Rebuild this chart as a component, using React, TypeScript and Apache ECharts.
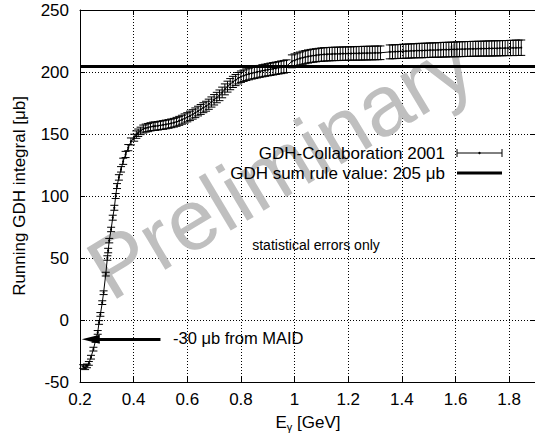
import React, { useEffect, useRef } from 'react';
import * as echarts from 'echarts';

const FONT = '"Liberation Sans", Arial, Helvetica, sans-serif';

// Photon energy E_gamma [GeV]
const energyGeV = [
  0.212, 0.219, 0.226, 0.233, 0.241, 0.250, 0.258, 0.266, 0.271, 0.276,
  0.283, 0.288, 0.296, 0.302, 0.305, 0.309, 0.316, 0.322, 0.328, 0.333,
  0.338, 0.345, 0.353, 0.361, 0.370, 0.380, 0.390, 0.402, 0.410, 0.417,
  0.426, 0.436, 0.445, 0.454, 0.463, 0.473,
  0.48, 0.49, 0.50, 0.51, 0.52, 0.53, 0.54, 0.55, 0.56, 0.57,
  0.58, 0.59, 0.60, 0.61, 0.62, 0.63, 0.64, 0.65, 0.66, 0.67,
  0.68, 0.69, 0.70, 0.71, 0.72, 0.73, 0.74, 0.75, 0.76, 0.77,
  0.78, 0.79, 0.80, 0.81, 0.82, 0.83, 0.84, 0.85, 0.86, 0.87,
  0.88, 0.89, 0.90, 0.91, 0.92, 0.93, 0.94, 0.95, 0.96, 0.97,
  0.99, 1.00, 1.01, 1.02, 1.03, 1.04, 1.05, 1.06, 1.07, 1.08,
  1.09, 1.10, 1.11, 1.12, 1.13, 1.14, 1.15, 1.16, 1.17, 1.18,
  1.19, 1.20, 1.21, 1.22, 1.23, 1.24, 1.25, 1.26, 1.27, 1.28,
  1.29, 1.30, 1.31, 1.32,
  1.355, 1.365, 1.375, 1.385, 1.395, 1.405, 1.415, 1.425, 1.435, 1.445,
  1.455, 1.465, 1.475, 1.485, 1.495, 1.505, 1.515, 1.525, 1.535, 1.545,
  1.555, 1.565, 1.575, 1.585, 1.595, 1.605, 1.615, 1.625, 1.635, 1.645,
  1.655, 1.665, 1.675, 1.685, 1.695, 1.705, 1.715, 1.725, 1.735, 1.745,
  1.755, 1.765, 1.775, 1.785, 1.795, 1.805, 1.815, 1.825, 1.835, 1.845,
];

// Running GDH integral [microbarn]
const runningGdh = [
  -37.5, -38.5, -37, -35, -30, -23.5, -16.5, -10, -2, 4.5,
  14, 22, 37, 50, 56, 64, 73, 82.5, 90.5, 100,
  108, 115, 121.5, 128, 133.5, 139, 144, 147, 149.5, 151,
  152.5, 154, 154.8, 155.2, 155.8, 156.2,
  156.3, 156.6, 157, 157.3, 157.7, 158.1, 158.6, 159.1, 159.8, 160.6,
  161.5, 162.5, 163.5, 164.6, 165.8, 167.1, 168.5, 169.8, 171.2, 172.4,
  174, 175.8, 177.6, 179.4, 181.2, 183.5, 186, 188.2, 190.2, 192,
  193.5, 195, 196.2, 197, 197.8, 198.4, 199, 199.5, 200, 200.5,
  201, 201.4, 201.8, 202.2, 202.6, 203, 203.4, 203.8, 204.2, 204.7,
  208.6, 209.4, 210.2, 210.9, 211.5, 212.0, 212.5, 212.9, 213.2, 213.5,
  213.8, 214.0, 214.2, 214.3, 214.4, 214.5, 214.6, 214.6, 214.7, 214.8,
  214.8, 214.9, 214.9, 215.0, 215.0, 215.1, 215.1, 215.2, 215.2, 215.3,
  215.3, 215.4, 215.4, 215.5,
  216.2, 216.3, 216.4, 216.5, 216.6, 216.7, 216.8, 216.9, 217.0, 217.1,
  217.2, 217.3, 217.3, 217.4, 217.5, 217.6, 217.7, 217.7, 217.8, 217.9,
  218.0, 218.0, 218.1, 218.2, 218.2, 218.3, 218.4, 218.4, 218.5, 218.6,
  218.6, 218.7, 218.7, 218.8, 218.8, 218.9, 218.9, 219.0, 219.0, 219.1,
  219.1, 219.2, 219.2, 219.3, 219.3, 219.4, 219.4, 219.5, 219.5, 219.6,
];

// Statistical error [microbarn]
const statError = [
  1.5, 1.5, 1.5, 1.5, 1.5, 1.5, 1.5, 1.5, 1.5, 1.5,
  1.5, 1.5, 1.5, 1.8, 1.8, 1.8, 1.8, 2, 2, 2,
  2, 2.2, 2.2, 2.5, 2.5, 2.5, 2.8, 2.8, 3, 3,
  3, 3.2, 3.2, 3.3, 3.3, 3.4,
  3.4, 3.4, 3.4, 3.5, 3.5, 3.5, 3.5, 3.5, 3.6, 3.6,
  3.6, 3.7, 3.7, 3.8, 3.8, 3.9, 3.9, 4, 4, 4,
  4.1, 4.1, 4.2, 4.2, 4.3, 4.3, 4.4, 4.4, 4.5, 4.5,
  4.5, 4.6, 4.6, 4.6, 4.7, 4.7, 4.7, 4.8, 4.8, 4.8,
  4.9, 4.9, 4.9, 5, 5, 5, 5, 5.1, 5.1, 5.1,
  5.2, 5.2, 5.2, 5.2, 5.3, 5.3, 5.3, 5.3, 5.3, 5.3,
  5.3, 5.4, 5.4, 5.4, 5.4, 5.4, 5.4, 5.4, 5.4, 5.4,
  5.4, 5.4, 5.4, 5.4, 5.5, 5.5, 5.5, 5.5, 5.5, 5.5,
  5.5, 5.5, 5.5, 5.5,
  5.6, 5.6, 5.6, 5.6, 5.6, 5.7, 5.7, 5.7, 5.7, 5.7,
  5.7, 5.8, 5.8, 5.8, 5.8, 5.8, 5.8, 5.8, 5.9, 5.9,
  5.9, 5.9, 5.9, 5.9, 5.9, 6, 6, 6, 6, 6,
  6, 6, 6, 6, 6, 6, 6.1, 6.1, 6.1, 6.1,
  6.1, 6.1, 6.1, 6.1, 6.1, 6.1, 6.2, 6.2, 6.2, 6.2,
];

const sumRuleValue = 205;
const maidArrow = { fromX: 0.5, toX: 0.24, y: -15.5 };

export default function App() {
  const ref = useRef<HTMLDivElement>(null);
  useEffect(() => {
    const chart = echarts.init(ref.current!, null, { renderer: 'svg', width: 535, height: 435 });
    const points = energyGeV.map((x, i) => [x, runningGdh[i], statError[i]]);
    const axisCommon = {
      type: 'value',
      axisLine: { show: true, onZero: false, lineStyle: { color: '#000', width: 1 } },
      axisTick: { show: true, inside: true, length: 5, lineStyle: { color: '#000', width: 1 } },
    };
    chart.setOption({
      animation: false,
      backgroundColor: '#fff',
      grid: { left: 80, top: 10, right: -1, bottom: 53, containLabel: false, outerBoundsMode: 'none' },
      xAxis: [
        {
          ...axisCommon,
          min: 0.2, max: 1.9, interval: 0.2, position: 'bottom',
          axisLabel: { color: '#000', fontSize: 17, fontFamily: FONT, margin: 9, showMaxLabel: false },
          splitLine: { show: true, lineStyle: { color: '#000', width: 1, type: [1, 2] } },
          name: '{e|E}{g|γ}{e| [GeV]}',
          nameLocation: 'middle',
          nameGap: 30,
          nameTextStyle: {
            rich: {
              e: { fontSize: 17, fontFamily: FONT, color: '#000', lineHeight: 20 },
              g: { fontSize: 11, fontFamily: FONT, color: '#000', lineHeight: 10, verticalAlign: 'bottom' },
            },
          },
        },
        {
          ...axisCommon,
          min: 0.2, max: 1.9, interval: 0.2, position: 'top',
          axisLabel: { show: false },
          splitLine: { show: false },
        },
      ],
      yAxis: [
        {
          ...axisCommon,
          min: -50, max: 250, interval: 50, position: 'left',
          axisLabel: { color: '#000', fontSize: 17, fontFamily: FONT, margin: 11 },
          splitLine: { show: true, lineStyle: { color: '#000', width: 1, type: [1, 2] } },
          name: 'Running GDH integral [μb]',
          nameLocation: 'middle',
          nameGap: 52,
          nameTextStyle: { fontSize: 17, fontFamily: FONT, color: '#000' },
        },
        {
          ...axisCommon,
          min: -50, max: 250, interval: 50, position: 'right',
          axisLabel: { show: false },
          splitLine: { show: false },
        },
      ],
      graphic: [
        {
          type: 'text', x: 280, y: 166, rotation: 0.54, z: 1,
          style: { text: 'Preliminary', fontSize: 86, fontFamily: FONT, fill: '#bfbfbf', textAlign: 'center', textVerticalAlign: 'middle' },
        },
        {
          type: 'text', x: 445, y: 153, z: 10,
          style: { text: 'GDH-Collaboration 2001', fontSize: 17, fontFamily: FONT, fill: '#000', textAlign: 'right', textVerticalAlign: 'middle' },
        },
        { type: 'line', z: 10, shape: { x1: 457, y1: 153, x2: 502, y2: 153 }, style: { stroke: '#000', lineWidth: 1 } },
        { type: 'line', z: 10, shape: { x1: 457, y1: 149, x2: 457, y2: 157 }, style: { stroke: '#000', lineWidth: 1 } },
        { type: 'line', z: 10, shape: { x1: 502, y1: 149, x2: 502, y2: 157 }, style: { stroke: '#000', lineWidth: 1 } },
        { type: 'circle', z: 10, shape: { cx: 479.5, cy: 153, r: 1.2 }, style: { fill: '#000' } },
        {
          type: 'text', x: 445, y: 173, z: 10,
          style: { text: 'GDH sum rule value: 205 μb', fontSize: 17, fontFamily: FONT, fill: '#000', textAlign: 'right', textVerticalAlign: 'middle' },
        },
        { type: 'line', z: 10, shape: { x1: 457, y1: 173, x2: 502, y2: 173 }, style: { stroke: '#000', lineWidth: 3 } },
        {
          type: 'text', x: 316, y: 245, z: 10,
          style: { text: 'statistical errors only', fontSize: 14, fontFamily: FONT, fill: '#000', textAlign: 'center', textVerticalAlign: 'middle' },
        },
        {
          type: 'text', x: 173, y: 338, z: 10,
          style: { text: '-30 μb from MAID', fontSize: 16.5, fontFamily: FONT, fill: '#000', textAlign: 'left', textVerticalAlign: 'middle' },
        },
      ],
      series: [
        {
          type: 'custom',
          xAxisIndex: 0, yAxisIndex: 0,
          data: points,
          encode: { x: 0, y: 1 },
          z: 3,
          renderItem: (params: any, api: any) => {
            const x = api.value(0), y = api.value(1), e = api.value(2);
            const top = api.coord([x, y + e]);
            const bot = api.coord([x, y - e]);
            const hw = 4;
            const st = { stroke: '#000', lineWidth: 1 };
            return {
              type: 'group',
              children: [
                { type: 'line', shape: { x1: top[0], y1: top[1], x2: bot[0], y2: bot[1] }, style: st },
                { type: 'line', shape: { x1: top[0] - hw, y1: top[1], x2: top[0] + hw, y2: top[1] }, style: st },
                { type: 'line', shape: { x1: bot[0] - hw, y1: bot[1], x2: bot[0] + hw, y2: bot[1] }, style: st },
              ],
            };
          },
        },
        {
          type: 'line',
          xAxisIndex: 0, yAxisIndex: 0,
          data: points.map((p) => [p[0], p[1]]),
          symbol: 'circle', symbolSize: 2,
          itemStyle: { color: '#000' },
          lineStyle: { color: '#000', width: 1 },
          z: 4,
          markLine: {
            silent: true,
            symbol: 'none',
            label: { show: false },
            lineStyle: { color: '#000', width: 3, type: 'solid' },
            data: [
              { yAxis: sumRuleValue, lineStyle: { color: '#000', width: 3, type: 'solid' } },
              [
                { coord: [maidArrow.fromX, maidArrow.y], symbol: 'none', lineStyle: { color: '#000', width: 3, type: 'solid' } },
                { coord: [maidArrow.toX, maidArrow.y], symbol: 'triangle', symbolSize: [9, 18] },
              ],
            ],
          },
        },
      ],
    });
    return () => chart.dispose();
  }, []);
  return (
    <div
      ref={ref}
      style={{ position: 'absolute', left: 0, top: 0, width: 535, height: 435, background: '#fff' }}
    />
  );
}
